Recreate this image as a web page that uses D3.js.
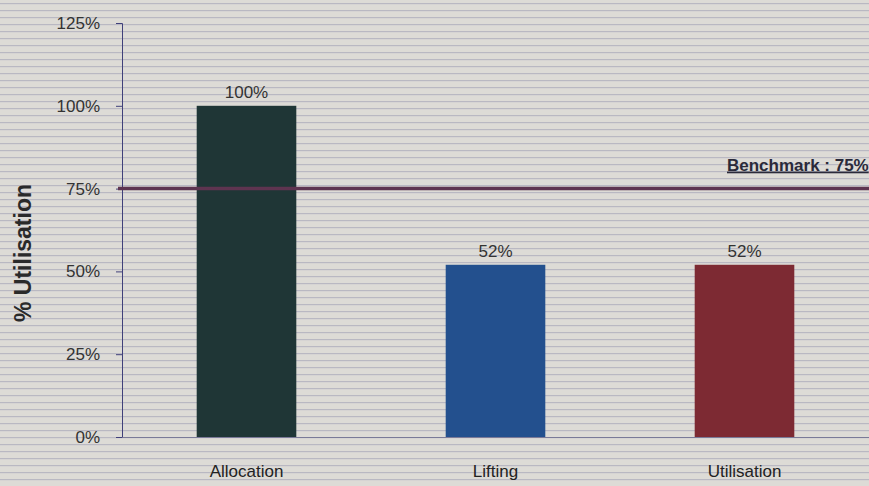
<!DOCTYPE html>
<html><head><meta charset="utf-8">
<script src="https://cdn.jsdelivr.net/npm/d3@7"></script>
<style>
html,body{margin:0;padding:0;background:#dddbd6;}
svg{display:block;font-family:"Liberation Sans",Arial,sans-serif;}
</style></head>
<body><svg id="chart" width="869" height="486"></svg>
<script>
const categories = ["Allocation", "Lifting", "Utilisation"];
const values = [1.00, 0.52, 0.52];
const valueLabels = ["100%", "52%", "52%"];
const barColors = ["#1f3636", "#23508e", "#7d2a33"];
const yTicks = [0, 0.25, 0.5, 0.75, 1.0, 1.25];
const benchmark = 0.75;
const benchmarkLabel = "Benchmark : 75%";
const yTitle = "% Utilisation";

const W = 869, H = 486;
const svg = d3.select("#chart");
const m = {left:122, right:0, top:23, bottom:49};

// background texture (scanned look)
const defs = svg.append("defs");
const pat = defs.append("pattern").attr("id","stripes").attr("width",8).attr("height",7)
  .attr("patternUnits","userSpaceOnUse");
pat.append("rect").attr("width",8).attr("height",7).attr("fill","#dddbd6");
pat.append("rect").attr("y",3).attr("width",8).attr("height",1.2).attr("fill","#8f8fab").attr("opacity",0.45);
svg.append("rect").attr("width",W).attr("height",H).attr("fill","url(#stripes)");

const x = d3.scaleBand().domain(categories).range([m.left, W - m.right]).paddingInner(0.6).paddingOuter(0.3);
const y = d3.scaleLinear().domain([0, 1.25]).range([H - m.bottom, m.top]);

// bars
svg.selectAll(".bar").data(categories).join("rect")
  .attr("x", d => x(d)).attr("width", x.bandwidth())
  .attr("y", (d,i) => y(values[i])).attr("height", (d,i) => y(0) - y(values[i]))
  .attr("fill", (d,i) => barColors[i]);

// value labels
svg.selectAll(".vl").data(categories).join("text")
  .attr("x", d => x(d) + x.bandwidth()/2).attr("y", (d,i) => y(values[i]) - 8)
  .attr("text-anchor","middle").attr("font-size",17).attr("fill","#333")
  .text((d,i) => valueLabels[i]);

// y axis
const yAxis = d3.axisLeft(y).tickValues(yTicks).tickFormat(d3.format(".0%")).tickSize(6).tickPadding(16);
const ga = svg.append("g").attr("transform",`translate(${m.left},0)`).call(yAxis);
ga.select(".domain").attr("stroke","#40407a");
ga.selectAll(".tick line").attr("stroke","#40407a");
ga.selectAll(".tick text").attr("font-size",17).attr("fill","#333").attr("font-family","Liberation Sans, Arial, sans-serif");

// x axis
const xAxis = d3.axisBottom(x).tickSize(0).tickPadding(28);
const gx = svg.append("g").attr("transform",`translate(0,${y(0)})`).call(xAxis);
gx.select(".domain").attr("stroke","#7a7a98").attr("stroke-width",1);
gx.selectAll(".tick text").attr("font-size",17).attr("fill","#222").attr("font-family","Liberation Sans, Arial, sans-serif");

// benchmark line
svg.append("line").attr("x1", m.left - 4).attr("x2", W)
  .attr("y1", y(benchmark)).attr("y2", y(benchmark))
  .attr("stroke","#5e3450").attr("stroke-width",3.5);
svg.append("text").attr("x", 727).attr("y", y(benchmark) - 18)
  .attr("font-size",17).attr("font-weight","bold").attr("fill","#2a2a3a")
  .attr("text-decoration","underline").text(benchmarkLabel);

// y title
svg.append("text").attr("transform",`translate(31,253) rotate(-90)`)
  .attr("text-anchor","middle").attr("font-size",23).attr("font-weight","bold").attr("fill","#2a2a2a")
  .text(yTitle);
</script></body></html>
